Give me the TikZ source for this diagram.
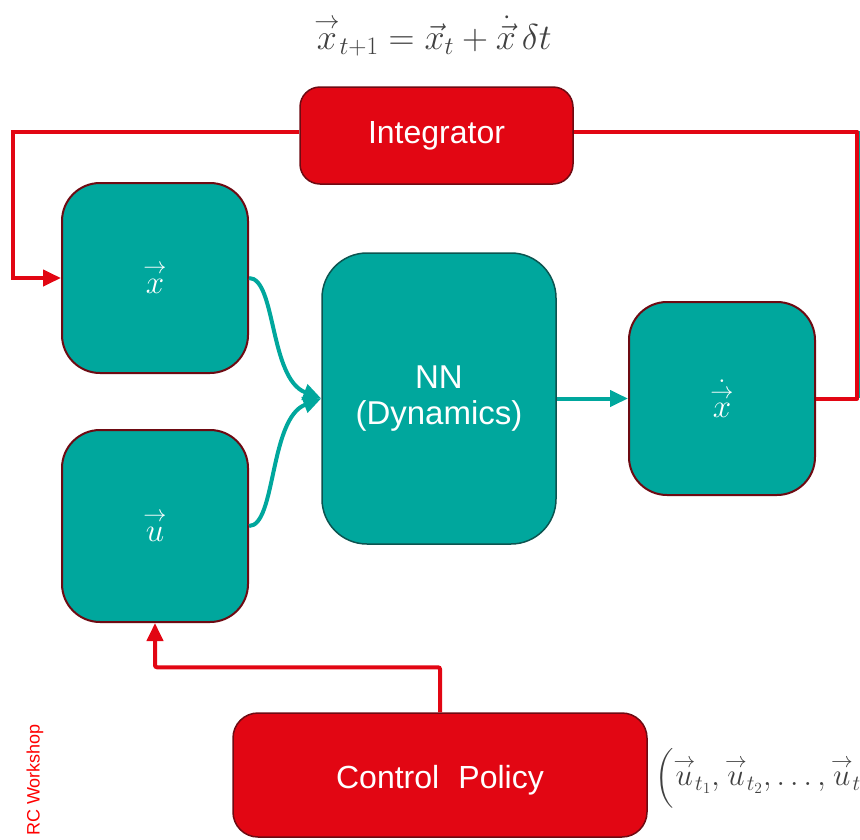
\RequirePackage{fix-cm}
\documentclass[tikz,border=0pt]{standalone}
\usepackage{amsmath}
\usepackage{fontspec}
\setmainfont{Liberation Sans}
\usetikzlibrary{arrows.meta,calc}
\definecolor{teal1}{RGB}{0,167,157}
\definecolor{tealdark}{RGB}{12,84,80}
\definecolor{red1}{RGB}{226,6,19}
\definecolor{redborder}{RGB}{110,10,18}
\definecolor{formula}{RGB}{64,64,64}
\tikzset{
  tealbox/.style={draw=redborder, line width=2pt, fill=teal1, rounded corners=38pt, inner sep=0pt, text=white},
  nnbox/.style={draw=tealdark, line width=1.5pt, fill=teal1, rounded corners=45pt, inner sep=0pt, text=white, align=center, font=\fontsize{33}{36}\selectfont},
  redbox/.style={draw=redborder, line width=1.5pt, fill=red1, inner sep=0pt, text=white, font=\fontsize{32}{36}\selectfont},
  redline/.style={draw=red1, line width=4pt},
  tealline/.style={draw=teal1, line width=4pt},
  tip/.style={-{Triangle[length=18pt,width=16pt]}},
  boxmath/.style={font=\fontsize{33}{36}\selectfont, text=white}
}
\begin{document}
\begin{tikzpicture}[x=1pt,y=-1pt]
\clip (0,0) rectangle (860,839);
\useasboundingbox (0,0) rectangle (860,839);
% formula top
\node[text=formula, font=\fontsize{36}{40}\selectfont] (eq) at (433,36)
  {$\overset{\rightarrow}{x}_{t+1}=\vec{x}_t+\dot{\vec{x}}\,\delta t$};
% boxes
\node[redbox, rounded corners=20pt, minimum width=273pt, minimum height=97pt] (int) at (436.5,135.5) {Integrator};
\node[tealbox, minimum width=186pt, minimum height=190pt] (x) at (155,278) {};
\node[boxmath] (xl) at (x.center) {$\overset{\rightarrow}{x}$};
\node[tealbox, minimum width=186pt, minimum height=192pt] (u) at (155,526) {};
\node[boxmath] (ul) at (u.center) {$\overset{\rightarrow}{u}$};
\node[nnbox, minimum width=234pt, minimum height=291pt] (nn) at (439,398.5) {NN\\(Dynamics)};
\node[tealbox, minimum width=186pt, minimum height=193pt] (xd) at (722,398.5) {};
\node[boxmath] (xdl) at (xd.center) {$\dot{\overset{\rightarrow}{x}}$};
\node[redbox, rounded corners=25pt, minimum width=414pt, minimum height=124pt] (cp) at (440,775) {};
\node[text=white, font=\fontsize{32}{36}\selectfont, inner sep=0pt] (cpl) at ($(cp.center)+(0,5)$) {Control\hspace{0.6em}Policy};
% bottom formula
\node[text=formula, anchor=west, inner sep=0pt, font=\fontsize{31}{34}\selectfont] (useq) at (655,778)
  {$\Bigl(\overset{\rightarrow}{u}_{t_1},\overset{\rightarrow}{u}_{t_2},\ldots,\overset{\rightarrow}{u}_{t_N}\Bigr)$};
% RC Workshop
\node[text=red, rotate=90, font=\fontsize{18}{20}\selectfont, inner sep=0pt] (rc) at (35,780) {RC Workshop};
% feedback loop
\draw[draw=teal1, line width=2pt] (859,131) -- (859,398);
\draw[draw=teal1, line width=2pt] (12,131) -- (12,278);
\draw[redline, line join=round] (xd.east) -- (857,398.5) |- ($(int.east)+(0,-4)$);
\draw[redline, tip] ($(int.west)+(0,-4)$) -| ($(x.west)+(-48,0)$) -- (x.west);
% control to u
\draw[redline, tip, rounded corners=2pt] (cp.north) -- ++(0,-45) -| (u.south);
% to NN
\draw[tealline, tip] (x.east) .. controls ($(x.east)+(27,0)$) and ($(nn.west)+(-52,-20)$) .. (nn.west);
\draw[tealline, tip] (u.east) .. controls ($(u.east)+(27,0)$) and ($(nn.west)+(-52,20)$) .. (nn.west);
\draw[tealline, tip] (nn.east) -- (xd.west);
\end{tikzpicture}
\end{document}
